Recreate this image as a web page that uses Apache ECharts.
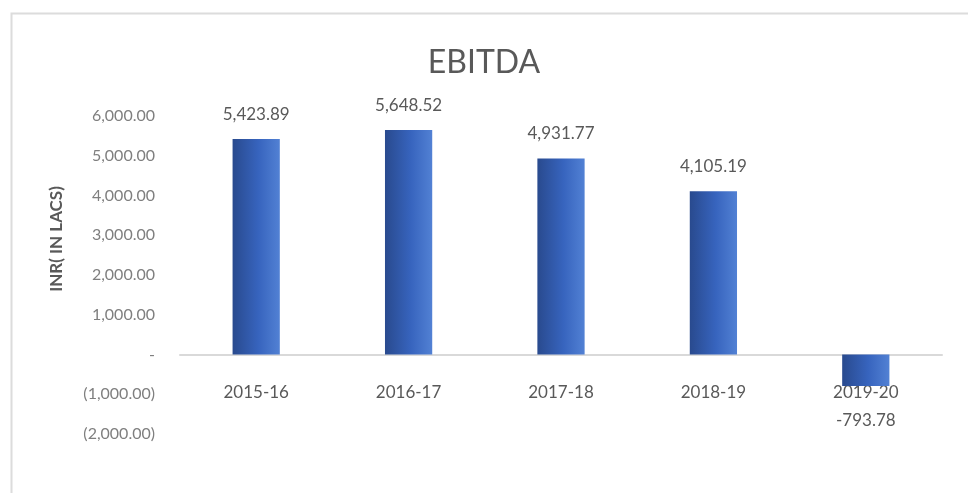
<!DOCTYPE html>
<html>
<head>
<meta charset="utf-8">
<script src="https://cdn.jsdelivr.net/npm/echarts@6/dist/echarts.min.js"></script>
<style>
  html, body { margin: 0; padding: 0; background: #ffffff; }
  #chart { width: 968px; height: 493px; }
</style>
</head>
<body>
<div id="chart"></div>
<script>
// EBITDA by financial year, INR in lacs
const years = ['2015-16', '2016-17', '2017-18', '2018-19', '2019-20'];
const ebitda = [5423.89, 5648.52, 4931.77, 4105.19, -793.78];
const yMin = -2000;
const yMax = 6000;
const yStep = 1000;

const gridTop = 116;
const gridBottom = 59;
const chartHeight = 493;

function fmtNum(v, digits) {
  return Math.abs(v).toLocaleString('en-US', {
    minimumFractionDigits: digits, maximumFractionDigits: digits
  });
}

// Axis ticks: zero shown as a dash, negatives in brackets
function tickLabel(v) {
  if (v === 0) return '-';
  const s = fmtNum(v, 2);
  return v < 0 ? '(' + s + ')' : s;
}

// Shift the category axis (line and labels) up onto the zero value
const plotHeight = chartHeight - gridTop - gridBottom;
const zeroOffset = plotHeight * (0 - yMin) / (yMax - yMin);

const barFill = new echarts.graphic.LinearGradient(0, 0, 1, 0, [
  { offset: 0, color: '#294a8e' },
  { offset: 0.55, color: '#3764be' },
  { offset: 1, color: '#5281d4' }
]);

const seriesData = ebitda.map(v => ({
  value: v,
  label: v < 0
    ? { position: 'bottom', distance: 26 }
    : { position: 'top', distance: 16 }
}));

const chart = echarts.init(document.getElementById('chart'));
chart.setOption({
  animation: false,
  backgroundColor: '#ffffff',
  title: {
    text: 'EBITDA',
    left: 'center',
    top: 42,
    textStyle: {
      fontFamily: 'Lato',
      fontSize: 32,
      fontWeight: 'normal',
      color: '#595959'
    }
  },
  graphic: [
    {
      type: 'rect',
      left: 9,
      top: 11,
      shape: { width: 975, height: 500 },
      style: { fill: 'none', stroke: '#dcdcdc', lineWidth: 2 },
      silent: true
    },
    {
      type: 'text',
      x: 57,
      y: 239,
      rotation: Math.PI / 2,
      style: {
        text: 'INR( IN LACS)',
        fontFamily: 'Lato',
        fontSize: 17,
        fontWeight: 'bold',
        fill: '#595959',
        align: 'center',
        verticalAlign: 'middle'
      }
    }
  ],
  grid: {
    left: 180,
    right: 26,
    top: gridTop,
    bottom: gridBottom
  },
  xAxis: {
    type: 'category',
    data: years,
    offset: -zeroOffset,
    axisLine: { onZero: false, lineStyle: { color: '#d9d9d9', width: 2 } },
    axisTick: { show: false },
    axisLabel: {
      margin: 30,
      fontFamily: 'Lato',
      fontSize: 17,
      color: '#595959'
    }
  },
  yAxis: {
    type: 'value',
    min: yMin,
    max: yMax,
    interval: yStep,
    axisLine: { show: false },
    axisTick: { show: false },
    splitLine: { show: false },
    axisLabel: {
      margin: 25,
      fontFamily: 'Lato',
      fontSize: 16,
      color: '#7f7f7f',
      formatter: tickLabel
    }
  },
  series: [{
    type: 'bar',
    data: seriesData,
    barWidth: '31%',
    itemStyle: { color: barFill },
    label: {
      show: true,
      fontFamily: 'Lato',
      fontSize: 17,
      color: '#595959',
      formatter: p => (p.value < 0 ? '-' : '') + fmtNum(p.value, 2)
    }
  }]
});
</script>
</body>
</html>
